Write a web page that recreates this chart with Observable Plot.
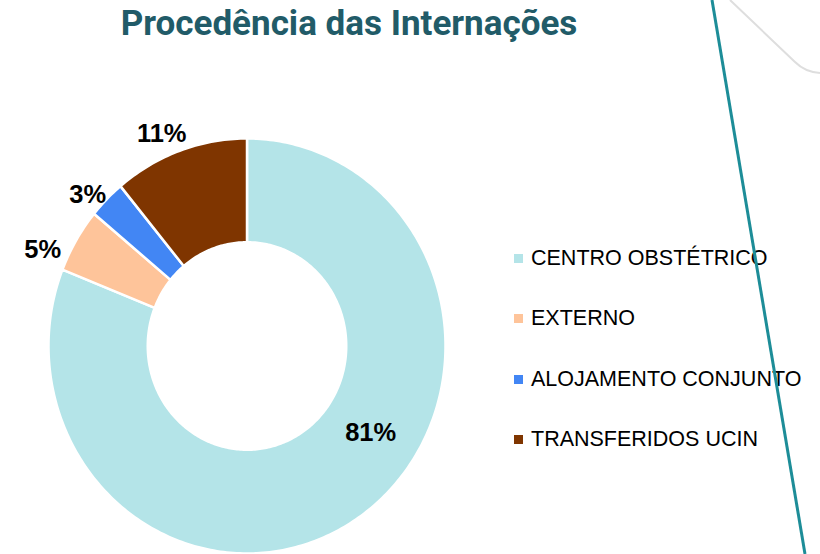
<!DOCTYPE html>
<html>
<head>
<meta charset="utf-8">
<script src="https://cdn.jsdelivr.net/npm/d3@7"></script>
<script src="https://cdn.jsdelivr.net/npm/@observablehq/plot@0.6"></script>
<style>
  html, body { margin: 0; padding: 0; background: #fff; }
  #page { position: relative; width: 820px; height: 554px; overflow: hidden; }
  #title { position: absolute; left: 0; width: 698px; top: 0; height: 50px; text-align: center;
           font-family: Roboto, sans-serif; font-weight: 700; font-size: 35px; line-height: 48px; color: #215b68; }
  #chart { position: absolute; left: 0; top: 50px; }
  #legend { position: absolute; left: 514px; top: 228px; font-family: "Liberation Sans", Arial, sans-serif; font-size: 21.5px; color: #000; }
  .row { height: 60.5px; display: flex; align-items: center; }
  .sw { width: 9px; height: 9px; margin-right: 8px; }
  #deco { position: absolute; left: 0; top: 0; pointer-events: none; }
</style>
</head>
<body>
<div id="page">
  <div id="title">Procedência das Internações</div>
  <div id="chart"></div>
  <div id="legend"></div>
  <svg id="deco" width="820" height="554">
    <path d="M730 0 L795 62 Q805 72 820 73" fill="none" stroke="#dedede" stroke-width="2"/>
    <line x1="712" y1="0" x2="805" y2="554" stroke="#1d8d98" stroke-width="3"/>
  </svg>
</div>
<script>
const categories = ["CENTRO OBSTÉTRICO", "EXTERNO", "ALOJAMENTO CONJUNTO", "TRANSFERIDOS UCIN"];
const values = [81, 5, 3, 11];
const labels = ["81%", "5%", "3%", "11%"];
const colors = ["#b4e4e8", "#fec49a", "#4286f4", "#7f3500"];

const innerR = 0.5;
const arcs = d3.pie().sort(null).value(d => d)(values);

const polys = [];
arcs.forEach((a, i) => {
  const n = Math.max(4, Math.ceil((a.endAngle - a.startAngle) * 60));
  for (let k = 0; k <= n; k++) {
    const t = a.startAngle + (a.endAngle - a.startAngle) * k / n;
    polys.push({cat: categories[i], x: Math.sin(t), y: Math.cos(t)});
  }
  for (let k = n; k >= 0; k--) {
    const t = a.startAngle + (a.endAngle - a.startAngle) * k / n;
    polys.push({cat: categories[i], x: innerR * Math.sin(t), y: innerR * Math.cos(t)});
  }
});

const labelData = arcs.map((a, i) => {
  const mid = (a.startAngle + a.endAngle) / 2;
  const r = i === 0 ? 0.75 : 1.12;
  return {cat: categories[i], text: labels[i], x: r * Math.sin(mid), y: r * Math.cos(mid)};
});

const labelMark = (i, dx, dy) => Plot.text(labelData.filter(d => d.cat === categories[i]),
  {x: "x", y: "y", text: "text", fontSize: 25.5, fontWeight: "bold", fill: "#000", dx, dy});

const plot = Plot.plot({
  width: 820,
  height: 504,
  marginLeft: 48,
  marginRight: 375,
  marginTop: 88,
  marginBottom: 1,
  x: {domain: [-1, 1], axis: null},
  y: {domain: [-1, 1], axis: null},
  color: {domain: categories, range: colors},
  style: {fontFamily: "'Liberation Sans', Arial, sans-serif", background: "transparent", overflow: "visible"},
  marks: [
    Plot.line(polys, {x: "x", y: "y", z: "cat", fill: "cat", stroke: "#fff", strokeWidth: 2.5, curve: "linear-closed"}),
    labelMark(0, 40, -42),
    labelMark(1, -13, 22),
    labelMark(2, -2, 13),
    labelMark(3, -10, 6)
  ]
});
document.getElementById("chart").appendChild(plot);

const legend = document.getElementById("legend");
categories.forEach((c, i) => {
  const row = document.createElement("div");
  row.className = "row";
  const sw = document.createElement("div");
  sw.className = "sw";
  sw.style.background = colors[i];
  const tx = document.createElement("span");
  tx.textContent = c;
  row.appendChild(sw);
  row.appendChild(tx);
  legend.appendChild(row);
});
</script>
</body>
</html>
